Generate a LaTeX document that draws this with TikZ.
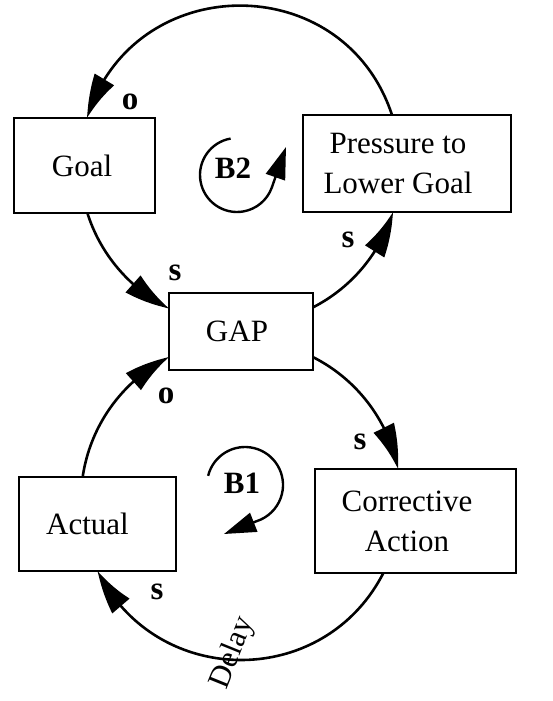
\documentclass[tikz,border=0pt]{standalone}
\usepackage{fontspec}
\setmainfont{Liberation Serif}
\usetikzlibrary{arrows.meta,bending,calc}
\begin{document}
\begin{tikzpicture}[x=1pt,y=1pt,
  box/.style={draw,line width=1.3pt,inner sep=0pt,align=center,
    font=\fontsize{31}{40}\selectfont},
  link/.style={line width=2.6pt,-{Triangle[length=44pt,width=22pt,bend]}},
  loopline/.style={line width=2.4pt,-{Triangle[length=32pt,width=20pt]}},
  pol/.style={inner sep=0pt,font=\bfseries\fontsize{33}{34}\selectfont},
  loopname/.style={inner sep=0pt,font=\bfseries\fontsize{31}{32}\selectfont},
  lbl/.style={inner sep=0pt,font=\fontsize{31}{32}\selectfont}]
\useasboundingbox[fill=white] (0,0) rectangle (552,-701);

% boxes
\node[box,minimum width=141pt,minimum height=95pt] (goal) at (84.5,-165.5) {Goal\kern5pt};
\node[box,minimum width=208pt,minimum height=97pt] (press) at (407,-163.5) {Pressure to\kern18pt\\Lower Goal\kern18pt};
\node[box,minimum width=144pt,minimum height=77pt] (gap) at (241,-331.5) {GAP\kern8pt};
\node[box,minimum width=157pt,minimum height=94pt] (actual) at (97.5,-524) {Actual\kern20pt};
\node[box,minimum width=201pt,minimum height=104pt] (corr) at (415.5,-521) {Corrective\kern17pt\\Action\kern17pt};

% circle centres
\coordinate (c1) at (240,-165);
\coordinate (c2) at (241,-500);

% connector end points on the two circles
\coordinate (pA1) at ($(c1)+(18.2:160)$);
\coordinate (pA2) at ($(c1)+(162.9:160)$);
\coordinate (pB1) at ($(c1)+(197.5:160)$);
\coordinate (pB2) at ($(c1)+(243.7:160)$);
\coordinate (pC1) at ($(c1)+(297.1:160)$);
\coordinate (pC2) at ($(c1)+(342.9:160)$);
\coordinate (pD1) at ($(c2)+(63.3:160)$);
\coordinate (pD2) at ($(c2)+(11.2:160)$);
\coordinate (pE1) at ($(c2)+(-27.1:160)$);
\coordinate (pE2) at ($(c2)+(-153.7:160)$);
\coordinate (pF1) at ($(c2)+(171.7:160)$);
\coordinate (pF2) at ($(c2)+(116.7:160)$);

% connectors
\draw[link] (pA1) to[out=108.2,in=72.9,looseness=1.30] (pA2);   % Pressure -> Goal
\draw[link] (pB1) to[out=287.5,in=153.7,looseness=0.887] (pB2);  % Goal -> GAP
\draw[link] (pC1) to[out=27.1,in=-107.1,looseness=0.887] (pC2);  % GAP -> Pressure
\draw[link] (pD1) to[out=-26.7,in=101.2,looseness=0.897] (pD2);  % GAP -> Corrective
\draw[link] (pE1) to[out=-117.1,in=-63.7,looseness=1.175] (pE2); % Corrective -> Actual
\draw[link] (pF1) to[out=81.7,in=206.7,looseness=0.903] (pF2);   % Actual -> GAP

% polarity labels
\node[pol] (o1) at (130,-102) {o};
\node[pol] (s1) at (175,-273) {s};
\node[pol] (s2) at (348,-240) {s};
\node[pol] (o2) at (166,-396) {o};
\node[pol] (s3) at (360,-442) {s};
\node[pol] (s4) at (157,-592) {s};

% loop markers
\node[loopname] (b2) at (233,-168) {B2};
\coordinate (b2c) at (237,-175);
\coordinate (b2t) at (286,-147);
\draw[loopline] ($(b2c)+(100:37)$) arc[start angle=100,end angle=340,radius=37] -- (b2t);
\node[loopname] (b1) at (242,-483) {B1};
\coordinate (b1c) at (245,-485);
\coordinate (b1t) at (224,-534);
\draw[loopline] ($(b1c)+(166:38)$) arc[start angle=166,end angle=-65,radius=38] -- (b1t);

% delay
\node[lbl,rotate=68] (delay) at (233,-653) {Delay};
\end{tikzpicture}
\end{document}
